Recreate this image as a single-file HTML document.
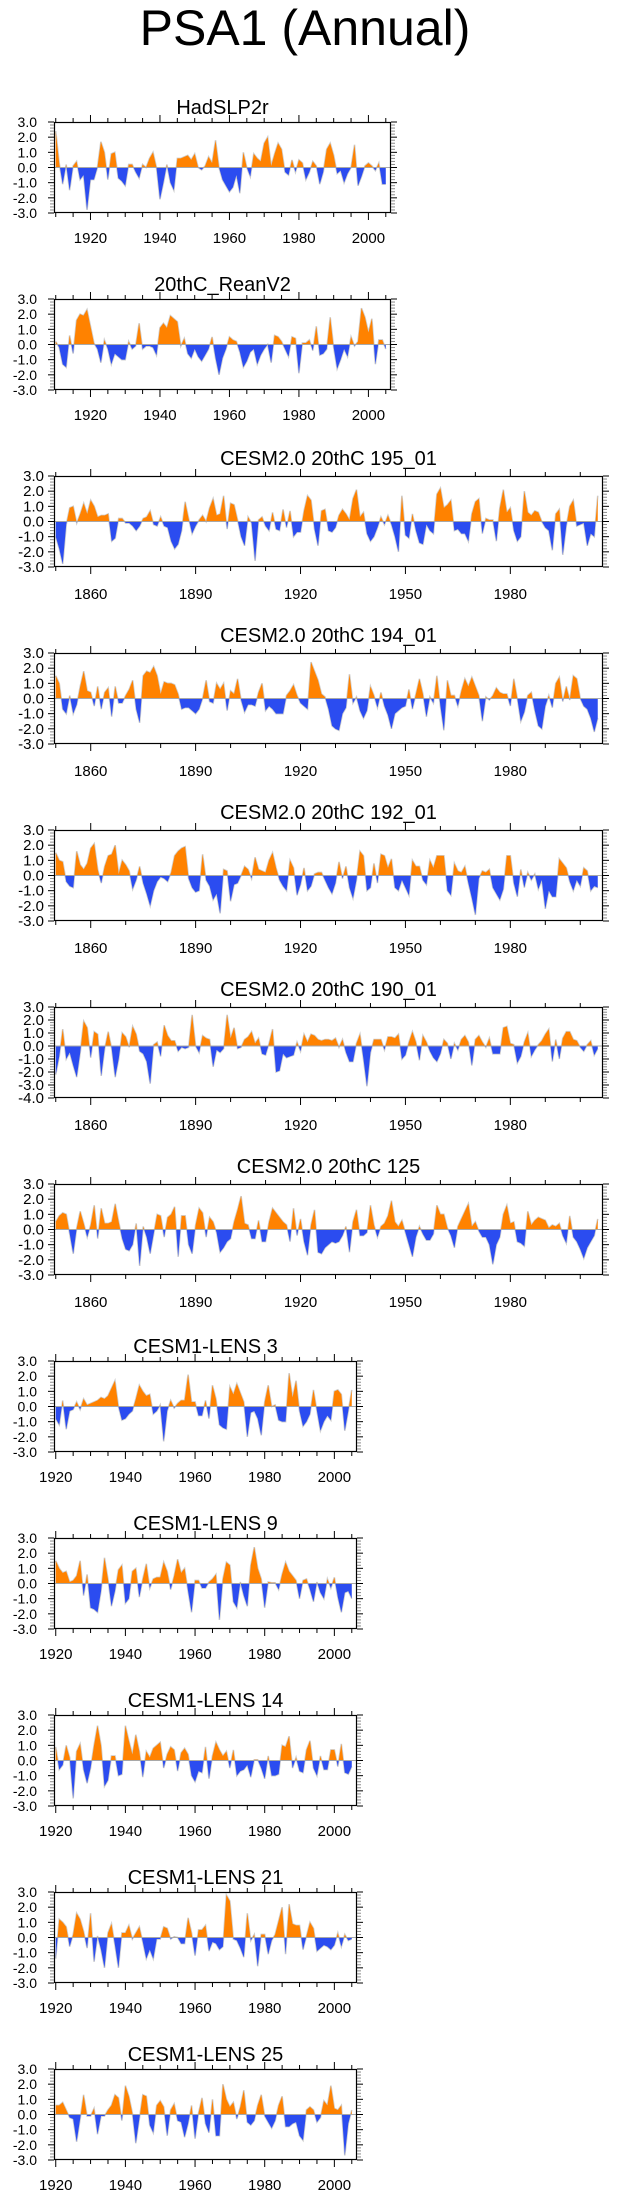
<!DOCTYPE html>
<html>
<head>
<meta charset="utf-8">
<style>
  html,body{margin:0;padding:0;background:#fff;}
  svg{display:block;}
  text{font-family:"Liberation Sans",Arial,sans-serif;fill:#000;}
</style>
</head>
<body>
<svg id="fig" xmlns="http://www.w3.org/2000/svg" width="623" height="2198" viewBox="0 0 623 2198">
  <text x="305" y="45" font-size="50" text-anchor="middle">PSA1 (Annual)</text>
</svg>
<script>
// ---- data (annual PSA1 index values) ----
const panelTitles = ["HadSLP2r","20thC_ReanV2","CESM2.0 20thC 195_01","CESM2.0 20thC 194_01","CESM2.0 20thC 192_01","CESM2.0 20thC 190_01","CESM2.0 20thC 125","CESM1-LENS 3","CESM1-LENS 9","CESM1-LENS 14","CESM1-LENS 21","CESM1-LENS 25"];
const startYears = [1910,1910,1850,1850,1850,1850,1850,1920,1920,1920,1920,1920];
const yMinVals = [-3,-3,-3,-3,-3,-4,-3,-3,-3,-3,-3,-3];
const yMaxVals = [3,3,3,3,3,3,3,3,3,3,3,3];
const xTickLabelsObs = [1920,1940,1960,1980,2000];
const xTickLabelsCesm2 = [1860,1890,1920,1950,1980];
const xTickLabelsLens = [1920,1940,1960,1980,2000];

const hadslp = [2.4,0.3,-1.1,0.2,-1.5,0.1,0.4,-0.8,-0.5,-2.8,
-0.8,-0.8,0.0,1.7,1.0,-0.8,0.9,1.0,-0.7,-0.9,
-1.2,0.2,0.2,-0.3,-0.7,0.2,0.0,0.6,1.0,0.0,
-2.1,-1.0,0.2,-1.0,-1.5,0.6,0.6,0.7,0.8,0.5,
0.9,0.0,-0.15,0.1,0.7,0.3,1.8,0.0,-0.8,-1.2,
-1.6,-1.3,-0.5,-1.7,1.0,0.0,-0.6,0.9,0.6,0.4,
1.6,2.0,0.1,0.9,1.6,1.2,-0.3,-0.5,0.5,-0.3,
0.5,0.3,-0.8,-0.3,0.4,0.1,-1.1,-0.3,1.2,1.6,
0.8,-0.4,-0.2,-1.0,-0.4,0.0,1.5,-1.2,-0.6,0.1,
0.3,0.1,-0.2,0.3,-1.1,-1.1];
const reanv2 = [0.2,-0.2,-1.3,-1.5,0.6,-0.6,1.6,2.0,1.9,2.3,
1.2,0.1,-0.3,-1.2,0.3,-0.3,-1.3,-0.6,-0.8,-1.0,
-1.0,0.2,-0.3,-0.1,1.4,-0.3,-0.1,-0.1,-0.2,-0.7,
1.1,1.4,1.1,1.9,1.7,1.5,-0.1,0.4,-0.6,-0.9,
-0.3,-0.8,-1.1,-0.7,-0.3,0.5,-0.9,-2.0,-0.9,-0.3,
0.5,0.3,0.2,-0.5,-1.5,-1.1,-0.5,-0.3,-1.3,-0.7,
-0.3,0.0,-1.2,0.6,0.5,0.2,-0.3,-0.8,0.5,0.4,
-1.9,0.1,0.1,0.3,-0.4,1.2,-0.7,-0.6,-0.3,1.8,
-0.2,-1.6,-1.0,-0.3,-0.8,0.5,-0.1,0.2,2.4,1.8,
0.8,1.7,-1.3,0.3,0.3,-0.3];
const c195 = [-1.0,-1.8,-2.8,-0.2,0.9,1.0,-0.1,0.5,1.2,0.5,
1.4,1.0,0.3,0.4,0.4,0.5,-1.3,-1.1,0.2,0.2,
-0.1,-0.1,-0.3,-0.6,-0.3,0.2,0.3,0.7,-0.2,-0.3,
0.3,-0.3,-0.4,-1.3,-1.8,-1.5,-0.6,1.3,0.2,-0.8,
-0.3,0.1,0.4,0.0,0.9,1.5,0.4,0.5,1.7,-0.5,
1.2,1.1,0.1,-1.0,-1.6,0.3,-0.1,-2.6,0.1,0.3,
-0.3,-0.6,0.6,-0.5,-0.6,0.8,-0.4,0.7,-1.0,-0.7,
-0.7,0.7,1.7,1.4,-0.5,-1.6,0.7,0.8,-0.6,-0.7,
-0.4,0.4,0.8,0.5,0.1,1.5,2.1,0.3,0.6,-0.8,
-1.3,-1.0,-0.4,0.3,-0.2,0.4,-0.2,-1.0,-2.0,1.7,
-0.9,-1.1,0.5,-0.6,-1.4,-1.5,-0.2,-0.6,-0.8,1.8,
2.2,0.9,1.1,1.4,-0.6,-0.5,-0.8,-0.8,-1.3,0.5,
1.3,1.5,-0.8,0.2,0.1,0.1,-1.3,0.9,2.1,0.6,
0.9,-0.6,-1.3,-1.0,2.0,0.6,0.4,0.7,0.6,0.0,
-0.4,-0.6,-1.9,0.5,0.8,-2.2,-0.3,1.0,1.4,-0.3,
-0.2,-0.1,-1.6,-0.8,-1.0,1.7];
const c194 = [1.5,1.0,-0.7,-1.0,0.2,-1.0,-0.4,0.8,1.8,0.5,
0.4,-0.5,0.8,-0.7,0.4,0.7,-1.2,0.8,-0.3,-0.3,
0.2,0.6,1.2,-0.7,-1.6,1.5,1.8,1.7,2.1,1.5,
0.3,1.1,1.0,1.0,0.9,0.3,-0.7,-0.6,-0.6,-0.8,
-1.0,-0.7,0.0,1.2,-0.2,-0.3,1.0,0.6,1.0,-0.8,
0.5,0.3,1.3,-0.1,-0.9,-0.4,-0.4,-0.5,0.4,1.0,
-0.8,-0.5,-0.7,-1.0,-1.0,-1.0,0.2,0.5,0.9,0.2,
-0.3,-0.5,-0.7,2.4,1.8,1.2,0.3,0.1,-0.7,-1.8,
-2.0,-2.1,-1.0,-0.6,1.6,-0.3,0.1,-0.8,-1.3,-0.8,
0.8,0.2,-0.6,0.4,-0.5,-1.1,-2.0,-1.0,-0.8,-0.6,
-0.5,0.6,-0.7,0.3,1.3,0.3,-1.2,0.1,-0.3,1.5,
-0.5,-2.1,1.2,0.2,0.2,-0.5,0.5,1.3,0.8,1.4,
0.8,0.2,-1.5,0.1,-0.1,0.2,0.7,0.4,0.3,0.3,
-0.5,1.3,0.0,-1.5,-0.9,0.2,0.4,-0.8,-1.8,-2.0,
-0.5,0.2,-0.6,1.0,1.4,-0.2,0.8,-0.1,1.5,1.3,
0.0,-0.5,-0.7,-1.3,-2.2,-1.3];
const c192 = [1.5,1.0,0.9,-0.4,-0.7,-0.8,1.6,0.7,0.4,0.8,
1.8,2.1,0.4,-0.5,0.6,1.3,1.4,2.0,0.1,1.0,
0.7,0.3,-0.9,-0.3,0.6,-0.5,-1.2,-2.0,-1.0,-0.4,
-0.1,-0.2,-0.4,0.2,1.3,1.6,1.8,1.9,-0.2,-0.8,
-1.1,-1.0,1.4,-0.3,-0.7,-1.6,-1.2,-2.5,0.4,0.3,
-1.7,-0.6,-0.5,0.0,0.6,0.4,-0.2,1.2,0.4,0.3,
0.2,1.0,1.5,0.5,-0.3,-0.7,-1.0,1.0,0.5,-1.3,
-0.6,0.5,-1.0,-0.7,0.1,0.2,0.2,-0.3,-0.8,-1.2,
-0.5,0.9,-0.2,0.6,-0.8,-1.5,-0.3,1.6,1.3,-1.0,
-0.8,0.8,-0.5,1.4,1.3,0.5,1.1,-0.8,-1.0,-0.3,
-0.8,-1.3,1.0,0.6,0.6,-0.3,-0.6,1.0,0.5,1.3,
1.3,1.3,-1.0,-1.3,0.8,0.3,0.2,0.6,-0.5,-1.5,
-2.6,-0.2,0.3,0.2,0.4,-0.8,-1.2,-1.6,-0.9,1.3,
1.3,-0.5,-1.4,0.4,-0.8,0.2,-0.3,0.1,-0.9,-0.3,
-2.2,-1.0,-1.4,-1.4,1.1,0.8,0.5,-0.4,-1.0,-0.3,
-0.7,0.5,0.3,-1.0,-0.7,-0.8];
const c190 = [-2.2,-0.8,1.3,-1.0,-0.5,-1.5,-2.4,-0.5,1.9,1.4,
-0.9,1.1,0.9,-2.3,-0.2,1.1,-0.2,-2.4,-1.0,1.0,
0.7,-0.1,1.5,0.9,-0.4,-0.6,-1.2,-2.9,0.1,0.3,
-0.8,1.6,0.8,0.4,0.4,-0.4,-0.1,-0.2,-0.1,2.4,
0.0,-0.5,0.8,0.6,0.5,-1.6,-0.3,-0.5,-0.2,2.4,
0.6,1.4,-0.2,-0.1,0.5,0.7,1.1,0.2,0.6,-0.6,
-0.7,0.2,1.3,-2.0,-1.9,-0.6,-0.9,-0.8,-0.7,0.3,
-0.4,0.9,0.3,0.9,0.8,0.5,0.4,0.5,0.5,0.4,
0.6,-0.1,0.5,-0.5,-1.2,-1.2,0.2,0.9,-1.0,-3.1,
-0.5,0.5,0.5,0.5,-0.3,0.7,0.7,0.6,0.9,-1.0,
-0.7,0.3,1.1,0.3,-1.1,0.8,0.3,-0.4,-0.9,-1.2,
-0.6,0.5,0.2,-1.0,0.2,-0.3,0.5,0.8,0.3,-1.5,
0.5,0.8,0.3,-0.1,0.6,-0.6,-0.6,-0.6,1.4,1.5,
0.2,0.1,-1.3,-0.8,0.3,1.0,-0.8,-0.3,0.1,0.4,
0.9,1.3,-1.2,0.5,-1.0,0.6,1.1,1.1,0.5,0.4,
-0.1,-0.4,0.1,0.4,-0.7,-0.2];
const c125 = [0.5,0.9,1.1,1.0,-0.3,-1.6,0.1,1.2,0.4,-0.5,
0.3,1.6,-0.6,1.4,0.4,0.4,0.5,1.7,0.5,-0.6,
-1.3,-1.4,-1.0,0.4,-2.4,0.2,-0.5,-1.6,-0.3,1.0,
0.9,-0.5,0.8,1.0,1.5,-1.8,0.9,0.9,-1.0,-1.6,
0.3,1.4,1.1,-0.5,0.8,0.5,-0.2,-1.5,-1.2,-0.8,
-0.6,0.5,1.3,2.2,0.4,0.3,-0.6,-0.6,0.6,-0.8,
-0.8,0.5,1.4,1.1,0.8,0.5,0.3,-0.8,1.4,-0.4,
0.7,-0.8,-1.7,0.3,1.3,-1.5,-1.6,-1.2,-1.0,-0.8,
-0.9,-0.8,-0.4,0.2,-1.5,0.5,1.3,-0.4,-0.4,-0.2,
1.6,0.3,-0.5,0.2,0.4,0.9,1.9,0.5,0.2,0.6,
-0.2,-1.0,-1.8,-0.5,0.2,-0.3,-0.7,-0.7,-0.3,1.6,
1.0,1.0,0.1,-0.4,-1.2,0.2,0.7,1.2,1.7,0.2,
0.5,-0.1,-0.5,-0.5,-1.0,-2.3,-1.0,-0.5,1.0,1.6,
0.4,0.5,-0.8,-0.9,-1.1,1.2,0.3,0.6,0.8,0.7,
0.6,0.1,0.3,0.2,0.4,-0.4,-0.9,0.9,-0.5,-0.8,
-1.3,-1.9,-1.2,-0.8,-0.4,0.7];
const lens3 = [-0.8,-1.2,0.4,-1.5,-0.3,-0.2,0.3,-0.2,0.5,0.1,
0.2,0.3,0.4,0.6,0.5,0.7,1.2,1.7,0.0,-0.9,
-0.8,-0.5,-0.3,0.5,1.4,1.0,0.7,0.8,-0.5,-0.3,
0.1,-2.3,-0.3,0.4,-0.1,0.2,0.4,0.4,2.1,0.3,
0.3,-0.6,-0.6,0.4,-0.8,1.4,0.5,-1.2,-1.4,-1.5,
1.3,0.8,1.5,0.9,0.3,-2.0,-0.4,-0.3,-0.8,-1.9,
0.3,1.4,0.0,0.1,-0.9,-1.0,-1.0,2.2,0.6,1.7,
-0.3,-1.3,-1.0,-0.5,1.1,-0.3,-1.6,-1.0,-0.6,-0.9,
1.0,1.1,0.8,-1.6,-0.3,1.1];
const lens9 = [1.5,1.0,0.7,0.8,0.1,0.2,0.5,1.5,-0.8,0.6,
-1.6,-1.7,-1.9,-0.5,1.7,0.3,-1.5,-0.5,0.9,1.2,
-1.3,-1.0,0.8,1.0,-0.9,0.3,1.3,-0.3,0.3,0.4,
0.4,1.4,0.8,-0.4,0.5,1.6,0.7,1.0,-0.5,-1.9,
0.2,0.2,-0.3,-0.3,0.1,0.3,0.6,-2.4,0.3,1.4,
1.2,-1.2,-1.6,0.1,-0.8,-1.5,1.2,2.4,1.0,0.3,
-1.6,0.1,0.05,0.05,-0.4,0.6,1.4,0.8,0.5,0.2,
-1.0,0.2,0.3,-0.4,-1.2,0.1,-0.6,-1.0,0.3,-0.3,
0.4,-0.9,-1.9,-0.6,-0.5,-1.0];
const lens14 = [0.9,-0.6,-0.3,1.0,0.2,-2.5,0.6,1.1,-0.6,-1.5,
-0.5,1.0,2.3,1.0,-1.7,-1.3,0.3,0.3,-1.0,-0.9,
2.3,1.3,0.4,1.7,0.6,-1.1,0.6,0.2,0.8,1.0,
1.2,-0.5,0.4,0.9,0.7,-0.7,0.5,0.8,0.4,-1.0,
-1.4,-0.7,-0.8,0.9,-1.2,0.3,1.2,0.7,0.3,0.6,
-0.5,0.7,-1.0,-0.7,-0.6,-0.3,-1.1,0.05,0.05,-0.5,
-1.2,0.3,-1.0,-1.0,-0.9,1.0,0.9,1.6,-0.5,0.2,
-0.7,-0.8,0.7,1.3,-0.5,-1.0,0.3,-0.6,-0.6,0.7,
0.7,-0.4,1.1,-0.8,-0.9,-0.4];
const lens21 = [-1.4,1.2,1.0,0.7,-0.6,0.2,1.6,1.2,0.4,-0.7,
1.6,-1.6,0.1,-0.8,-2.0,0.3,0.9,-0.5,-2.0,0.3,
0.3,0.8,-0.1,0.3,0.7,-0.3,-1.4,-0.8,-1.4,-0.1,
-0.1,0.7,0.6,-0.1,0.05,0.0,-0.4,-0.4,1.3,0.3,
-1.2,0.5,0.5,0.8,-0.9,-0.3,-0.4,-0.8,-0.6,2.8,
2.4,-0.1,-0.2,-0.7,-1.3,1.6,-0.2,0.2,-1.9,0.2,
0.2,-1.1,-0.2,0.2,1.1,2.0,-1.1,2.2,0.9,0.8,
0.8,-0.8,0.1,1.0,0.6,-0.9,-0.7,-0.5,-0.6,-0.8,
-0.5,0.3,-0.6,0.2,-0.2,-0.1];
const lens25 = [0.6,0.6,0.8,0.3,-0.2,-0.3,-1.8,-0.3,1.3,-0.1,
-0.1,0.4,-1.3,-0.1,-0.1,0.3,0.6,1.3,1.1,-0.4,
1.9,1.2,0.1,-1.9,-0.3,1.3,1.2,-0.7,-1.2,0.6,
0.9,0.5,-1.4,0.3,0.7,-0.4,-0.5,-1.5,-0.6,0.6,
-1.6,0.1,1.1,-0.6,-1.2,1.0,-1.4,-1.4,2.0,1.0,
0.5,0.8,-0.3,0.5,1.6,-0.5,-0.7,-0.4,0.6,1.3,
-0.1,-0.5,-0.9,-0.4,0.6,1.2,-0.8,-0.8,-0.6,-0.5,
-1.4,-1.7,0.3,0.5,0.3,-0.5,-0.2,0.9,0.6,1.9,
0.4,0.3,0.6,-2.7,-0.6,0.3];

const seriesList = [hadslp,reanv2,c195,c194,c192,c190,c125,lens3,lens9,lens14,lens21,lens25];

// ---- layout ----
const NS = "http://www.w3.org/2000/svg";
const svg = document.getElementById("fig");
const ORANGE = "#ff8200", BLUE = "#2b4cf0";

function mk(tag, attrs, parent) {
  const e = document.createElementNS(NS, tag);
  for (const k in attrs) e.setAttribute(k, attrs[k]);
  (parent || svg).appendChild(e);
  return e;
}

function panelLayout(i) {
  const kind = i < 2 ? "obs" : (i < 7 ? "cesm2" : "lens");
  let xmin, xmax, right, majors, minorStep, minorFrom, minorTo;
  if (kind === "obs") { xmin = 1909.5; xmax = 2006.5; right = 391; majors = xTickLabelsObs; minorStep = 5; minorFrom = 1910; minorTo = 2005; }
  else if (kind === "cesm2") { xmin = 1849.5; xmax = 2006.5; right = 603; majors = xTickLabelsCesm2; minorStep = 10; minorFrom = 1850; minorTo = 2000; }
  else { xmin = 1919.5; xmax = 2006.5; right = 357; majors = xTickLabelsLens; minorStep = 5; minorFrom = 1920; minorTo = 2005; }
  return { kind, xmin, xmax, left: 54, right, top: 122 + 177 * i, height: 91, majors, minorStep, minorFrom, minorTo };
}

seriesList.forEach(function (data, i) {
  const L = panelLayout(i);
  const ymin = yMinVals[i], ymax = yMaxVals[i];
  const bottom = L.top + L.height;
  const xs = function (yr) { return L.left + (yr - L.xmin) / (L.xmax - L.xmin) * (L.right - L.left); };
  const ys = function (v) { return L.top + (ymax - v) / (ymax - ymin) * L.height; };
  const wide = L.kind === "cesm2";

  const g = mk("g", {});
  
  

  // title
  const t = mk("text", { x: (L.left + L.right) / 2, y: L.top - (wide ? 11 : 8), "font-size": 20, "text-anchor": "middle" }, g);
  t.textContent = panelTitles[i];
  
  

  // clip paths
  const cid = "clip" + i;
  const cp = mk("clipPath", { id: cid + "p" }, g);
  mk("rect", { x: L.left, y: L.top, width: L.right - L.left, height: ys(0) - L.top }, cp);
  const cn = mk("clipPath", { id: cid + "n" }, g);
  mk("rect", { x: L.left, y: ys(0), width: L.right - L.left, height: bottom - ys(0) }, cn);

  const z = ys(0);
  let d = "M" + xs(startYears[i]).toFixed(2) + "," + z.toFixed(2);
  let line = "";
  data.forEach(function (v, k) {
    const px = xs(startYears[i] + k).toFixed(2), py = ys(v).toFixed(2);
    d += " L" + px + "," + py;
    line += (k ? " " : "") + px + "," + py;
  });
  d += " L" + xs(startYears[i] + data.length - 1).toFixed(2) + "," + z.toFixed(2) + " Z";

  const halo = mk("polyline", { points: line, fill: "none", stroke: "#cfcfcf", "stroke-width": 1.6 }, g);
  
  

  const pos = mk("path", { d: d, fill: ORANGE, "clip-path": "url(#" + cid + "p)" }, g);
  
  
  const neg = mk("path", { d: d, fill: BLUE, "clip-path": "url(#" + cid + "n)" }, g);
  
  

  const zl = mk("line", { x1: L.left, x2: L.right, y1: z, y2: z, stroke: "#a8a8a8", "stroke-width": 1 }, g);
  
  

  // frame
  const fr = mk("rect", { x: L.left + 0.5, y: L.top + 0.5, width: L.right - L.left - 1, height: L.height - 1, fill: "none", stroke: "#000", "stroke-width": 1.2 }, g);
  
  

  // x ticks
  for (let yr = L.minorFrom; yr <= L.minorTo; yr += L.minorStep) {
    const x = xs(yr);
    const major = L.majors.indexOf(yr) >= 0;
    const len = major ? 7 : 4;
    mk("line", { x1: x, x2: x, y1: bottom, y2: bottom + len, stroke: "#000", "stroke-width": 1 }, g);
    mk("line", { x1: x, x2: x, y1: L.top, y2: L.top - len, stroke: "#000", "stroke-width": 1 }, g);
  }
  L.majors.forEach(function (yr) {
    const tl = mk("text", { x: xs(yr), y: bottom + (wide ? 32 : 30), "font-size": 15, "text-anchor": "middle" }, g);
    tl.textContent = String(yr);
    
    
  });

  // y ticks
  const nMinor = Math.round((ymax - ymin) / 0.2);
  for (let k = 0; k <= nMinor; k++) {
    const v = ymin + k * 0.2;
    const y = ys(v);
    const major = Math.abs(v - Math.round(v)) < 1e-6;
    const len = major ? 6 : 4;
    const col = major ? "#000" : "#8a8a8a";
    mk("line", { x1: L.left - len, x2: L.left, y1: y, y2: y, stroke: col, "stroke-width": 1 }, g);
    mk("line", { x1: L.right, x2: L.right + len, y1: y, y2: y, stroke: col, "stroke-width": 1 }, g);
  }
  for (let v = ymin; v <= ymax; v++) {
    const yl = mk("text", { x: wide ? 44 : 37, y: ys(v) + 5, "font-size": wide ? 15 : 14, "text-anchor": "end" }, g);
    yl.textContent = v.toFixed(1);
    
    
  }
});
</script>
</body>
</html>
